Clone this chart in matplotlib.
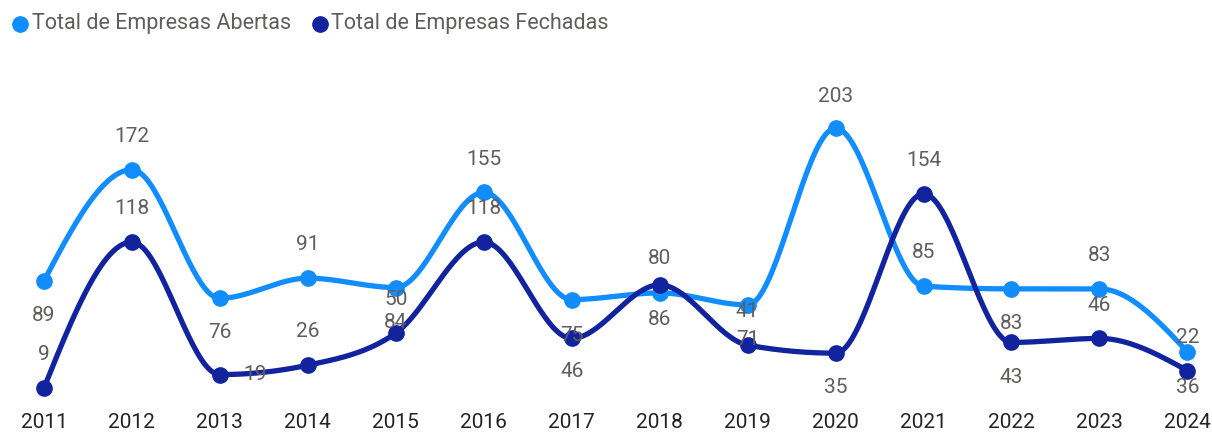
import numpy as np
import matplotlib.pyplot as plt
from matplotlib.lines import Line2D

plt.rcParams['font.family'] = ['Roboto', 'DejaVu Sans']

# Data
anos = [2011, 2012, 2013, 2014, 2015, 2016, 2017, 2018, 2019, 2020, 2021, 2022, 2023, 2024]
abertas = [89, 172, 76, 91, 84, 155, 75, 80, 71, 203, 85, 83, 83, 36]
fechadas = [9, 118, 19, 26, 50, 118, 46, 86, 41, 35, 154, 43, 46, 22]
series_names = ["Total de Empresas Abertas", "Total de Empresas Fechadas"]

# label placement (points, x/y offsets) -- mimics the reference
off_abertas = [(0, -25), (0, 24), (0, -25), (0, 24), (0, -25), (0, 24), (0, -26),
               (0, 25), (0, -25), (0, 23), (0, 24), (0, -25), (0, 24), (0, -26)]
off_fechadas = [(0, 24), (0, 24), (25, 0), (0, 24), (0, 24), (0, 24), (0, -24),
                (0, -25), (0, 24), (0, -25), (0, 24), (0, -25), (0, 24), (0, 24)]

c_abertas = "#118DFF"
c_fechadas = "#12239E"
c_label = "#605E5C"


def monotone(x, y, n=40):
    # d3 curveMonotoneX style interpolation
    x = np.asarray(x, float)
    y = np.asarray(y, float)
    h = np.diff(x)
    s = np.diff(y) / h
    t = np.zeros_like(y)
    for i in range(1, len(y) - 1):
        p = (s[i - 1] * h[i] + s[i] * h[i - 1]) / (h[i - 1] + h[i])
        t[i] = (np.sign(s[i - 1]) + np.sign(s[i])) * min(abs(s[i - 1]), abs(s[i]), 0.5 * abs(p))
    t[0] = (3 * s[0] - t[1]) / 2
    t[-1] = (3 * s[-1] - t[-2]) / 2
    xs, ys = [], []
    for i in range(len(x) - 1):
        u = np.linspace(0, 1, n)
        h00 = 2 * u**3 - 3 * u**2 + 1
        h10 = u**3 - 2 * u**2 + u
        h01 = -2 * u**3 + 3 * u**2
        h11 = u**3 - u**2
        xs.append(x[i] + u * h[i])
        ys.append(h00 * y[i] + h10 * h[i] * t[i] + h01 * y[i + 1] + h11 * h[i] * t[i + 1])
    return np.concatenate(xs), np.concatenate(ys)


W, H = 1212, 432
fig = plt.figure(figsize=(W / 100, H / 100), dpi=100)
ax = fig.add_axes([0, 0.074, 1, 0.682])

for vals, col, offs in [(abertas, c_abertas, off_abertas), (fechadas, c_fechadas, off_fechadas)]:
    sx, sy = monotone(anos, vals)
    ax.plot(sx, sy, color=col, lw=3.8, solid_capstyle='round', zorder=2)
    ax.plot(anos, vals, 'o', color=col, ms=11, zorder=3)
    for xv, yv, (dx, dy) in zip(anos, vals, offs):
        ax.annotate(str(yv), (xv, yv), xytext=(dx, dy), textcoords='offset points',
                    ha='center', va='center', fontsize=15, color=c_label, zorder=4)

ax.set_xlim(2010.5, 2024.28)
ax.set_ylim(0, 220)
ax.set_xticks(anos)
ax.set_xticklabels([str(a) for a in anos])
ax.tick_params(axis='x', length=0, pad=9, labelsize=15, labelcolor="#252423")
ax.set_yticks([])
for sp in ax.spines.values():
    sp.set_visible(False)
ax.patch.set_alpha(0)

# legend drawn by hand to match the compact Power BI layout
for (mx, tx), col, name in zip([(20, 32), (320, 331)], [c_abertas, c_fechadas], series_names):
    fig.add_artist(Line2D([mx / W], [1 - 24 / H], marker='o', ls='', color=col, ms=11,
                          transform=fig.transFigure))
    fig.text(tx / W, 1 - 24 / H, name, ha='left', va='center', fontsize=15.5, color=c_label)

fig.savefig("out.png", dpi=100)
